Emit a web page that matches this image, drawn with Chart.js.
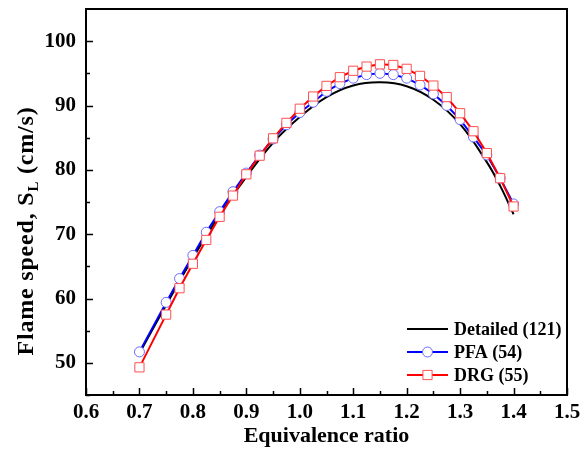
<!DOCTYPE html>
<html>
<head>
<meta charset="utf-8">
<script src="https://cdn.jsdelivr.net/npm/chart.js@4.4.1/dist/chart.umd.min.js"></script>
<style>
  html, body { margin: 0; padding: 0; background: #fff; }
  #wrap { width: 584px; height: 453px; }
</style>
</head>
<body>
<div id="wrap"><canvas id="myChart" width="584" height="453"></canvas></div>
<script>
// equivalence ratio for the marker series
var phiPts = [0.7, 0.75, 0.775, 0.8, 0.825, 0.85, 0.875, 0.9, 0.925, 0.95, 0.975, 1.0,
    1.025, 1.05, 1.075, 1.1, 1.125, 1.15, 1.175, 1.2, 1.225, 1.25, 1.275, 1.3,
    1.325, 1.35, 1.375, 1.4];
var pfa = [51.7, 59.4, 63.1, 66.7, 70.3, 73.5, 76.6, 79.5, 82.3, 84.8, 87.0, 88.9,
    90.5, 92.2, 93.4, 94.25, 94.8, 95.0, 94.8, 94.25, 93.2, 91.8, 90.0, 87.8,
    85.1, 82.3, 78.7, 74.7];
var drg = [49.3, 57.5, 61.6, 65.4, 69.1, 72.7, 76.0, 79.3, 82.2, 84.9, 87.3, 89.5,
    91.4, 93.05, 94.4, 95.4, 96.05, 96.4, 96.3, 95.7, 94.6, 93.1, 91.3, 88.8,
    86.0, 82.6, 78.7, 74.3];
// detailed mechanism curve
var phiDet = [0.7, 0.75, 0.8, 0.85, 0.9, 0.95, 1.0, 1.05, 1.1, 1.15, 1.2, 1.25, 1.3, 1.35, 1.375, 1.4];
var detailed = [51.5, 59.0, 66.3, 73.0, 78.9, 84.2, 88.2, 91.3, 93.1, 93.6, 93.0, 90.9, 87.1, 81.2, 77.5, 73.1];

var xTicks = [0.6, 0.7, 0.8, 0.9, 1.0, 1.1, 1.2, 1.3, 1.4, 1.5];
var yTicks = [50, 60, 70, 80, 90, 100];
var seriesNames = ['Detailed (121)', 'PFA (54)', 'DRG (55)'];

var FONT = '"Liberation Serif", "Times New Roman", serif';

function pts(xs, ys) {
    return xs.map(function (x, i) { return { x: x, y: ys[i] }; });
}

// frame + inward ticks
var frame = {
    id: 'frame',
    afterDatasetsDraw: function (chart) {
        var ctx = chart.ctx, a = chart.chartArea;
        var xs = chart.scales.x, ys = chart.scales.y;
        ctx.save();
        ctx.strokeStyle = '#000';
        ctx.lineWidth = 1.5;
        ctx.beginPath();
        xTicks.forEach(function (v, i) {
            var px = Math.round(xs.getPixelForValue(v)) + 0.5;
            ctx.moveTo(px, a.bottom); ctx.lineTo(px, a.bottom - 7);
            if (i < xTicks.length - 1) {
                var pm = Math.round(xs.getPixelForValue((v + xTicks[i + 1]) / 2)) + 0.5;
                ctx.moveTo(pm, a.bottom); ctx.lineTo(pm, a.bottom - 4);
            }
        });
        yTicks.forEach(function (v) {
            var py = Math.round(ys.getPixelForValue(v)) + 0.5;
            ctx.moveTo(a.left, py); ctx.lineTo(a.left + 7, py);
            var pm = Math.round(ys.getPixelForValue(v - 5)) + 0.5;
            ctx.moveTo(a.left, pm); ctx.lineTo(a.left + 4, pm);
        });
        ctx.stroke();
        ctx.lineWidth = 2;
        ctx.strokeRect(a.left, a.top, a.right - a.left, a.bottom - a.top);
        ctx.restore();
    }
};

// y title with subscript, and legend
var extras = {
    id: 'extras',
    afterDraw: function (chart) {
        var ctx = chart.ctx;
        ctx.save();
        ctx.fillStyle = '#000';
        ctx.translate(27, 231);
        ctx.rotate(-Math.PI / 2);
        ctx.letterSpacing = '0.8px';
        var f1 = 'bold 24px ' + FONT, f2 = 'bold 15px ' + FONT;
        ctx.font = f1;
        var t1 = 'Flame speed, S', t3 = ' (cm/s)';
        var w1 = ctx.measureText(t1).width, w3 = ctx.measureText(t3).width;
        ctx.font = f2;
        var w2 = ctx.measureText('L').width;
        var x0 = -(w1 + w2 + w3) / 2;
        ctx.textBaseline = 'middle';
        ctx.textAlign = 'left';
        ctx.font = f1; ctx.fillText(t1, x0, 0);
        ctx.font = f2; ctx.fillText('L', x0 + w1, 7);
        ctx.font = f1; ctx.fillText(t3, x0 + w1 + w2, 0);
        ctx.restore();

        // legend
        ctx.save();
        var rows = [329, 352, 375];
        chart.data.datasets.forEach(function (ds, i) {
            var y = rows[i];
            ctx.strokeStyle = ds.borderColor;
            ctx.lineWidth = 2;
            ctx.beginPath();
            ctx.moveTo(407, y); ctx.lineTo(448, y);
            ctx.stroke();
            if (ds.pointRadius > 0) {
                ctx.fillStyle = '#fff';
                ctx.strokeStyle = ds.pointBorderColor;
                ctx.lineWidth = 1;
                ctx.beginPath();
                if (ds.pointStyle === 'circle') {
                    ctx.arc(427.5, y, ds.pointRadius, 0, Math.PI * 2);
                } else {
                    var s = ds.pointRadius * Math.SQRT1_2;
                    ctx.rect(427.5 - s, y - s, 2 * s, 2 * s);
                }
                ctx.fill(); ctx.stroke();
            }
            ctx.fillStyle = '#000';
            ctx.font = 'bold 18px ' + FONT;
            ctx.textBaseline = 'middle';
            ctx.textAlign = 'left';
            ctx.fillText(seriesNames[i], 454, y + 1);
        });
        ctx.restore();
    }
};

var ctx = document.getElementById('myChart').getContext('2d');
var chart = new Chart(ctx, {
    type: 'line',
    data: {
        datasets: [{
            label: seriesNames[0],
            data: pts(phiDet, detailed),
            borderColor: '#000000',
            borderWidth: 2,
            pointRadius: 0,
            tension: 0.4,
            order: 3
        }, {
            label: seriesNames[1],
            data: pts(phiPts, pfa),
            borderColor: '#0000ff',
            borderWidth: 2,
            pointStyle: 'circle',
            pointRadius: 5,
            pointBorderWidth: 1,
            pointBorderColor: '#6a6aff',
            pointBackgroundColor: '#ffffff',
            tension: 0,
            order: 2
        }, {
            label: seriesNames[2],
            data: pts(phiPts, drg),
            borderColor: '#ff0000',
            borderWidth: 2,
            pointStyle: 'rect',
            pointRadius: 6.5,
            pointBorderWidth: 1,
            pointBorderColor: '#ff5050',
            pointBackgroundColor: '#ffffff',
            tension: 0,
            order: 1
        }]
    },
    plugins: [frame, extras],
    options: {
        responsive: false,
        animation: false,
        layout: { padding: { top: 9, right: 17, left: 0, bottom: 0 } },
        plugins: { legend: { display: false }, tooltip: { enabled: false } },
        scales: {
            x: {
                type: 'linear',
                min: 0.6, max: 1.5,
                afterBuildTicks: function (s) { s.ticks = xTicks.map(function (v) { return { value: v }; }); },
                afterFit: function (s) { s.height = 58; s.paddingLeft = 0; s.paddingRight = 0; },
                grid: { display: false, drawTicks: false },
                border: { display: false },
                ticks: {
                    padding: 5,
                    color: '#000',
                    font: { family: FONT, size: 21, weight: 'bold' },
                    callback: function (v) { return v.toFixed(1); }
                },
                title: {
                    display: true,
                    text: 'Equivalence ratio',
                    color: '#000',
                    font: { family: FONT, size: 22, weight: 'bold' },
                    padding: { top: 0, bottom: 3 }
                }
            },
            y: {
                type: 'linear',
                min: 45, max: 105,
                afterBuildTicks: function (s) { s.ticks = yTicks.map(function (v) { return { value: v }; }); },
                afterFit: function (s) { s.width = 86; s.paddingTop = 0; s.paddingBottom = 0; },
                grid: { display: false, drawTicks: false },
                border: { display: false },
                ticks: {
                    padding: 10,
                    color: '#000',
                    font: { family: FONT, size: 21, weight: 'bold' }
                }
            }
        }
    }
});
</script>
</body>
</html>
